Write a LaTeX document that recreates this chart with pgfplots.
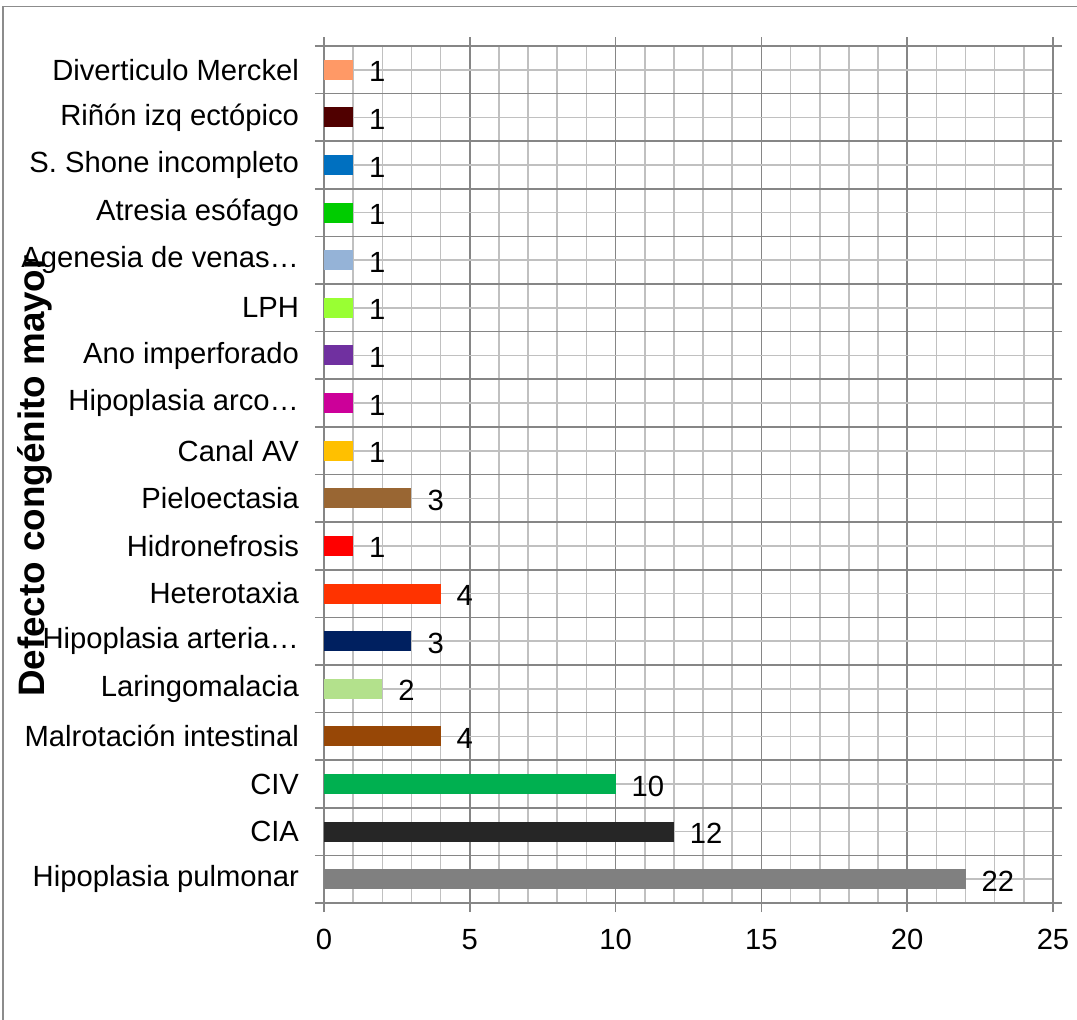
\documentclass[border=0pt]{standalone}
\usepackage{fontspec}
\setmainfont{Liberation Sans}
\usepackage{pgfplots}
\pgfplotsset{compat=1.18}

\definecolor{majgrid}{HTML}{868686}
\definecolor{mingrid}{HTML}{C0C0C0}
\definecolor{frame}{HTML}{8C8C8C}
\definecolor{c01}{HTML}{808080}
\definecolor{c02}{HTML}{262626}
\definecolor{c03}{HTML}{00B050}
\definecolor{c04}{HTML}{974706}
\definecolor{c05}{HTML}{B3E18C}
\definecolor{c06}{HTML}{002060}
\definecolor{c07}{HTML}{FF3300}
\definecolor{c08}{HTML}{FF0000}
\definecolor{c09}{HTML}{996633}
\definecolor{c10}{HTML}{FFC000}
\definecolor{c11}{HTML}{CC0099}
\definecolor{c12}{HTML}{7030A0}
\definecolor{c13}{HTML}{99FF33}
\definecolor{c14}{HTML}{95B3D7}
\definecolor{c15}{HTML}{00CC00}
\definecolor{c16}{HTML}{0070C0}
\definecolor{c17}{HTML}{500000}
\definecolor{c18}{HTML}{FF9966}

\begin{document}
\begin{tikzpicture}
\useasboundingbox (0,0) rectangle (538.5pt,-509.5pt);
% outer chart frame
\draw[frame, line width=0.8pt] (1.5pt,-520pt) -- (1.5pt,-3.2pt) -- (545pt,-3.2pt);

\begin{axis}[
  at={(162pt,-451.5pt)}, anchor=south west,
  scale only axis, width=364.5pt, height=428.5pt,
  xmin=0, xmax=25, ymin=0.5, ymax=18.5,
  xbar, bar width=10pt, bar shift=0pt,
  axis line style={majgrid, line width=0.8pt},
  font=\fontsize{14.6}{16}\selectfont,
  /pgf/number format/assume math mode=true,
  xtick={0,5,...,25}, minor xtick={0,1,...,25},
  x tick style={majgrid, line width=0.8pt}, xtick align=outside,
  major tick length=4.5pt, minor tick length=0pt,
  xmajorgrids, xminorgrids,
  major x grid style={majgrid, line width=0.8pt},
  minor x grid style={mingrid, line width=0.8pt},
  xticklabel style={yshift=-5pt},
  ytick={1,...,18},
  yticklabels={Hipoplasia pulmonar, CIA, CIV, Malrotación intestinal, Laringomalacia, Hipoplasia arteria…, Heterotaxia, Hidronefrosis, Pieloectasia, Canal AV, Hipoplasia arco…, Ano imperforado, LPH, Agenesia de venas…, Atresia esófago, S. Shone incompleto, Riñón izq ectópico, Diverticulo Merckel},
  y tick style={draw=none},
  ymajorgrids,
  major y grid style={mingrid, line width=0.8pt},
  yticklabel style={xshift=-4.5pt},
  extra y ticks={0.5,1.5,...,18.5},
  extra y tick labels={},
  extra y tick style={ymajorgrids, major y grid style={majgrid, line width=0.8pt},
     y tick style={draw=majgrid, line width=0.8pt}, ytick align=outside},
  nodes near coords,
  every node near coord/.append style={anchor=west, xshift=4.5pt, yshift=-1pt, text=black,
     font=\fontsize{14.6}{16}\selectfont},
  clip=false,
]
\addplot[fill=c01, draw=none] coordinates {(22,1)};
\addplot[fill=c02, draw=none] coordinates {(12,2)};
\addplot[fill=c03, draw=none] coordinates {(10,3)};
\addplot[fill=c04, draw=none] coordinates {(4,4)};
\addplot[fill=c05, draw=none] coordinates {(2,5)};
\addplot[fill=c06, draw=none] coordinates {(3,6)};
\addplot[fill=c07, draw=none] coordinates {(4,7)};
\addplot[fill=c08, draw=none] coordinates {(1,8)};
\addplot[fill=c09, draw=none] coordinates {(3,9)};
\addplot[fill=c10, draw=none] coordinates {(1,10)};
\addplot[fill=c11, draw=none] coordinates {(1,11)};
\addplot[fill=c12, draw=none] coordinates {(1,12)};
\addplot[fill=c13, draw=none] coordinates {(1,13)};
\addplot[fill=c14, draw=none] coordinates {(1,14)};
\addplot[fill=c15, draw=none] coordinates {(1,15)};
\addplot[fill=c16, draw=none] coordinates {(1,16)};
\addplot[fill=c17, draw=none] coordinates {(1,17)};
\addplot[fill=c18, draw=none] coordinates {(1,18)};
\end{axis}

\node[rotate=90, font=\bfseries\fontsize{18.4}{20}\selectfont] at (17.5pt,-238pt) {Defecto congénito mayor};
\end{tikzpicture}
\end{document}
